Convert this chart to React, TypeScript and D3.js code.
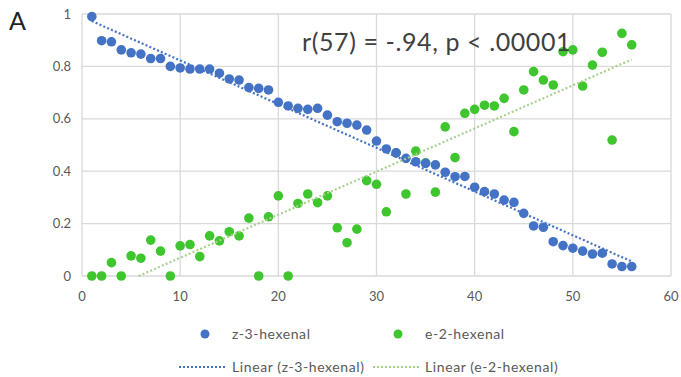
import { useEffect, useRef } from 'react'
import * as d3 from 'd3'

// sample index (x) for both series
const samples = d3.range(1, 57)

const z3Hexenal = [
  0.99, 0.898, 0.894, 0.863, 0.852, 0.847, 0.83, 0.83, 0.8, 0.794,
  0.79, 0.79, 0.79, 0.774, 0.752, 0.748, 0.719, 0.716, 0.71, 0.663,
  0.649, 0.64, 0.636, 0.64, 0.614, 0.589, 0.583, 0.576, 0.557, 0.515,
  0.485, 0.47, 0.449, 0.436, 0.43, 0.424, 0.396, 0.379, 0.38, 0.339,
  0.322, 0.313, 0.29, 0.281, 0.239, 0.191, 0.186, 0.131, 0.116, 0.106,
  0.095, 0.084, 0.087, 0.046, 0.036, 0.036,
]

const e2Hexenal = [
  0, 0, 0.051, 0, 0.077, 0.068, 0.137, 0.095, 0, 0.115,
  0.12, 0.074, 0.153, 0.134, 0.169, 0.153, 0.221, 0, 0.226, 0.306,
  0, 0.277, 0.313, 0.28, 0.306, 0.184, 0.127, 0.179, 0.364, 0.35,
  0.245, 0.47, 0.313, 0.477, 0.432, 0.32, 0.569, 0.452, 0.621, 0.636,
  0.652, 0.649, 0.678, 0.551, 0.71, 0.78, 0.748, 0.729, 0.856, 0.863,
  0.725, 0.805, 0.854, 0.519, 0.926, 0.882,
]

const xTicks = [0, 10, 20, 30, 40, 50, 60]
const yTicks = [0, 0.2, 0.4, 0.6, 0.8, 1]

const BLUE = '#4472c4'
const GREEN = '#3fc62e'
const LIGHT_GREEN = '#a9d18e'
const FONT = 'Lato, "Open Sans", sans-serif'

function linearFit(xs: number[], ys: number[]) {
  const mx = d3.mean(xs) as number
  const my = d3.mean(ys) as number
  let num = 0
  let den = 0
  xs.forEach((x, i) => {
    num += (x - mx) * (ys[i] - my)
    den += (x - mx) * (x - mx)
  })
  const slope = num / den
  return { slope, intercept: my - slope * mx }
}

export default function App() {
  const svgRef = useRef<SVGSVGElement>(null)
  const width = 681
  const height = 377
  const margin = { top: 14, left: 82 }

  useEffect(() => {
    if (!svgRef.current) return
    const svg = d3.select(svgRef.current)
    svg.selectAll('*').remove()

    const innerWidth = 589
    const innerHeight = 262

    const x = d3.scaleLinear().domain([0, 60]).range([0, innerWidth])
    const y = d3.scaleLinear().domain([0, 1]).range([innerHeight, 0])

    svg.append('rect').attr('width', width).attr('height', height).attr('fill', '#fff')

    const g = svg.append('g').attr('transform', `translate(${margin.left},${margin.top})`)

    // gridlines
    g.selectAll('.hgrid')
      .data(yTicks)
      .enter().append('line')
      .attr('x1', 0).attr('x2', innerWidth)
      .attr('y1', d => y(d)).attr('y2', d => y(d))
      .attr('stroke', '#d9d9d9').attr('stroke-width', 1.3)

    g.selectAll('.vgrid')
      .data(xTicks)
      .enter().append('line')
      .attr('x1', d => x(d)).attr('x2', d => x(d))
      .attr('y1', 0).attr('y2', innerHeight)
      .attr('stroke', '#d9d9d9').attr('stroke-width', 1.3)

    // tick labels
    g.selectAll('.ylab')
      .data(yTicks)
      .enter().append('text')
      .attr('x', -11).attr('y', d => y(d) + 4.5)
      .attr('text-anchor', 'end')
      .attr('font-family', FONT)
      .attr('font-size', 13)
      .attr('fill', '#595959')
      .text(d => String(d))

    g.selectAll('.xlab')
      .data(xTicks)
      .enter().append('text')
      .attr('x', d => x(d)).attr('y', innerHeight + 25)
      .attr('text-anchor', 'middle')
      .attr('font-family', FONT)
      .attr('font-size', 13)
      .attr('fill', '#595959')
      .text(d => String(d))

    // trendlines
    const fitZ = linearFit(samples, z3Hexenal)
    const fitE = linearFit(samples, e2Hexenal)
    const x0 = samples[0]
    const x1 = samples[samples.length - 1]
    const eStart = Math.max(x0, -fitE.intercept / fitE.slope)

    const trend = (fit: { slope: number; intercept: number }, from: number, to: number, color: string) => {
      g.append('line')
        .attr('x1', x(from)).attr('y1', y(fit.intercept + fit.slope * from))
        .attr('x2', x(to)).attr('y2', y(fit.intercept + fit.slope * to))
        .attr('stroke', color)
        .attr('stroke-width', 2.2)
        .attr('stroke-dasharray', '2 2.2')
    }

    // points
    g.selectAll('.e2')
      .data(e2Hexenal)
      .enter().append('circle')
      .attr('cx', (_, i) => x(samples[i]))
      .attr('cy', d => y(d))
      .attr('r', 4.8)
      .attr('fill', GREEN)

    g.selectAll('.z3')
      .data(z3Hexenal)
      .enter().append('circle')
      .attr('cx', (_, i) => x(samples[i]))
      .attr('cy', d => y(d))
      .attr('r', 4.8)
      .attr('fill', BLUE)

    trend(fitZ, x0, x1, BLUE)
    trend(fitE, eStart, x1, LIGHT_GREEN)

    // annotation
    svg.append('text')
      .attr('x', 302).attr('y', 51)
      .attr('font-family', FONT)
      .attr('font-size', 25)
      .attr('letter-spacing', 0.6)
      .attr('fill', '#404040')
      .text('r(57) = -.94, p < .00001')

    svg.append('text')
      .attr('x', 9).attr('y', 30)
      .attr('font-family', FONT)
      .attr('font-size', 25)
      .attr('fill', '#222')
      .text('A')

    // legend
    const lg = svg.append('g')
      .attr('font-family', FONT)
      .attr('font-size', 14)
      .attr('letter-spacing', 0.6)
      .attr('fill', '#595959')

    const dots = [
      { label: 'z-3-hexenal', color: BLUE, cx: 205, tx: 232 },
      { label: 'e-2-hexenal', color: GREEN, cx: 398, tx: 425 },
    ]
    dots.forEach(d => {
      lg.append('circle').attr('cx', d.cx).attr('cy', 334).attr('r', 4.5).attr('fill', d.color)
      lg.append('text').attr('x', d.tx).attr('y', 339).text(d.label)
    })

    const lines = [
      { label: 'Linear (z-3-hexenal)', color: BLUE, x1: 179, x2: 227, tx: 232 },
      { label: 'Linear (e-2-hexenal)', color: LIGHT_GREEN, x1: 373, x2: 419, tx: 425 },
    ]
    lines.forEach(d => {
      lg.append('line')
        .attr('x1', d.x1).attr('x2', d.x2).attr('y1', 367).attr('y2', 367)
        .attr('stroke', d.color).attr('stroke-width', 2)
        .attr('stroke-dasharray', '2 2')
      lg.append('text').attr('x', d.tx).attr('y', 372).text(d.label)
    })
  }, [])

  return (
    <svg
      ref={svgRef}
      width={width}
      height={height}
      style={{ position: 'absolute', left: 0, top: 0 }}
    />
  )
}
